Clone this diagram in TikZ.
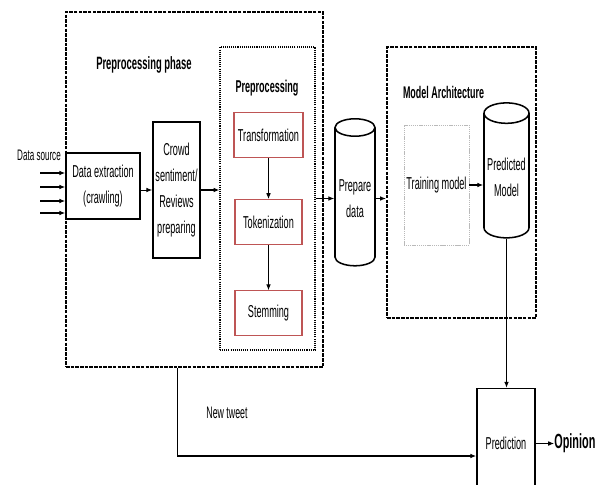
\documentclass[tikz,border=0pt]{standalone}
\usepackage{fontspec}
\setmainfont{Liberation Sans}[FakeStretch=0.53]
\definecolor{StepRed}{RGB}{190, 85, 85}
\usetikzlibrary{arrows.meta, positioning, shapes.geometric}

\begin{document}
\begin{tikzpicture}[
        x=0.03cm, y=-0.03cm,
        node distance=1cm,
        txt/.style={font=\fontsize{14.7}{22}\selectfont, align=center},
        title/.style={font=\fontsize{15.2}{18}\selectfont\bfseries},
        phase/.style={draw, line width=1.8pt, dash pattern=on 3pt off 1pt, inner sep=0pt},
        subphase/.style={draw, line width=1pt, dash pattern=on 0.9pt off 0.9pt, inner sep=0pt},
        block/.style={rectangle, draw, line width=1.3pt, fill=white, txt, inner sep=1pt},
        stepbox/.style={rectangle, draw=StepRed, line width=1pt, fill=white, txt, minimum width=2.01cm, minimum height=1.35cm},
        store/.style={cylinder, shape border rotate=90, aspect=0.5, draw, line width=1.3pt, fill=white, txt, inner sep=1pt},
        line/.style={draw, -{Latex[length=5pt, width=4pt]}, line width=0.8pt},
        bold line/.style={line, line width=1.8pt}
    ]
        \useasboundingbox (0,0) rectangle (597,485);

        % phase frames
        \node [phase, minimum width=7.71cm, minimum height=10.65cm] (prephase) at (194.5,189.5) {};
        \node [subphase, minimum width=2.85cm, minimum height=9.09cm] (prep) at (267.5,198.5) {};
        \node [phase, minimum width=4.47cm, minimum height=8.13cm] (arch) at (461.5,182.5) {};

        \node [title] (phaselbl) at (144,65) {Preprocessing phase};
        \node [title, font=\fontsize{14.6}{18}\selectfont\bfseries] (preplbl) at (267,88) {Preprocessing};
        \node [title, font=\fontsize{14.4}{18}\selectfont\bfseries] (archlbl) at (443.5,92) {Model Architecture};

        \node [block, minimum width=2.22cm, minimum height=1.98cm] (extract) at (103,186) {Data extraction\\(crawling)};
        \node [block, minimum width=1.41cm, minimum height=4.08cm] (crowd) at (176.5,190) {Crowd\\sentiment/\\Reviews\\preparing};

        \node [stepbox] (transform) at (268.5,135) {Transformation};
        \node [stepbox, below=1.23cm of transform] (token) {Tokenization};
        \node [stepbox, below=1.35cm of token] (stem) {Stemming};

        \node [store, minimum width=1.2cm, minimum height=4.41cm] (prepare) at (355,198.5) {Prepare\\data};
        \node [block, draw=gray!55, dash pattern=on 1pt off 0.6pt, line width=0.7pt, minimum width=1.95cm, minimum height=3.6cm] (train) at (436.5,185) {Training model};
        \node [store, minimum width=1.35cm, minimum height=4.05cm] (model) at (506.5,177.5) {Predicted\\Model};
        \node [block, minimum width=1.74cm, minimum height=3.3cm] (predict) at (506,443.5) {Prediction};
        \node [font=\fontsize{17.5}{20}\selectfont\bfseries, inner sep=0pt, right=0.55cm of predict] (opinion) {Opinion};

        \node [txt, font=\fontsize{13}{15}\selectfont] (source) at (39,155) {Data source};
        \node [txt, font=\fontsize{14.2}{16}\selectfont] (tweetlbl) at (227,413) {New tweet};

        % connectors
        \foreach \y [count=\i] in {173,187,201,213} {
            \coordinate (src\i) at (40,\y);
            \path [bold line] (src\i) -- (src\i -| extract.west);
        }
        \path [line] (extract.east |- crowd.west) -- (crowd.west);
        \path [bold line] (crowd.east) -- (crowd.east -| prep.west);
        \path [line] (transform) -- (token);
        \path [line] (token) -- (stem);
        \path [line] (prep.east |- prepare.west) -- (prepare.west);
        \path [line] (prepare.east) -- (prepare.east -| arch.west);
        \path [bold line] (train.east) -- (train.east -| model.west);
        \path [line] (model.south) -- (model.south |- predict.north);
        \coordinate (tweet) at ([xshift=-0.52cm]prephase.south);
        \path [line, line width=1.1pt] (tweet) |- ([yshift=-0.375cm]predict.west);
        \path [line] (predict) -- (opinion);
    \end{tikzpicture}
\end{document}
